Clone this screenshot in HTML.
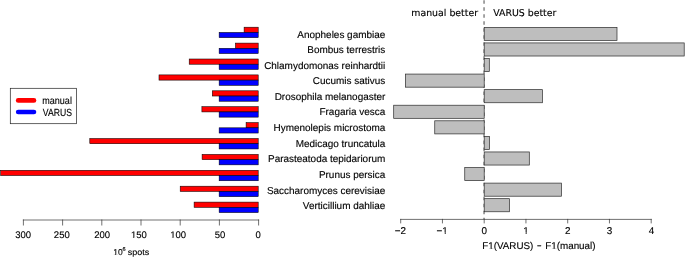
<!DOCTYPE html>
<html><head><meta charset="utf-8"><title>VARUS vs manual</title>
<style>
html,body{margin:0;padding:0;background:#fff;}
svg{display:block}
text{font-family:"Liberation Sans",sans-serif;fill:#000;text-rendering:geometricPrecision;stroke:#000;stroke-width:0.13px}
.dj{font-family:"DejaVu Sans",sans-serif}
</style></head><body>
<svg width="685" height="257" viewBox="0 0 685 257">
<rect width="685" height="257" fill="#fff"/>
<g stroke="#000" stroke-width="0.55">
<rect x="244.10" y="27.20" width="14.10" height="5.22" fill="#ff0000"/>
<rect x="219.15" y="32.42" width="39.05" height="5.22" fill="#0000ff"/>
<rect x="235.50" y="43.10" width="22.70" height="5.22" fill="#ff0000"/>
<rect x="219.15" y="48.32" width="39.05" height="5.22" fill="#0000ff"/>
<rect x="189.20" y="59.00" width="69.00" height="5.22" fill="#ff0000"/>
<rect x="219.15" y="64.22" width="39.05" height="5.22" fill="#0000ff"/>
<rect x="159.00" y="74.90" width="99.20" height="5.22" fill="#ff0000"/>
<rect x="219.15" y="80.12" width="39.05" height="5.22" fill="#0000ff"/>
<rect x="212.30" y="90.80" width="45.90" height="5.22" fill="#ff0000"/>
<rect x="219.15" y="96.02" width="39.05" height="5.22" fill="#0000ff"/>
<rect x="201.90" y="106.70" width="56.30" height="5.22" fill="#ff0000"/>
<rect x="219.15" y="111.92" width="39.05" height="5.22" fill="#0000ff"/>
<rect x="246.10" y="122.60" width="12.10" height="5.22" fill="#ff0000"/>
<rect x="219.15" y="127.82" width="39.05" height="5.22" fill="#0000ff"/>
<rect x="89.80" y="138.50" width="168.40" height="5.22" fill="#ff0000"/>
<rect x="219.15" y="143.72" width="39.05" height="5.22" fill="#0000ff"/>
<rect x="202.10" y="154.40" width="56.10" height="5.22" fill="#ff0000"/>
<rect x="219.15" y="159.62" width="39.05" height="5.22" fill="#0000ff"/>
<rect x="0.70" y="170.30" width="257.50" height="5.22" fill="#ff0000"/>
<rect x="219.15" y="175.52" width="39.05" height="5.22" fill="#0000ff"/>
<rect x="180.20" y="186.20" width="78.00" height="5.22" fill="#ff0000"/>
<rect x="219.15" y="191.42" width="39.05" height="5.22" fill="#0000ff"/>
<rect x="194.10" y="202.10" width="64.10" height="5.22" fill="#ff0000"/>
<rect x="219.15" y="207.32" width="39.05" height="5.22" fill="#0000ff"/>
</g>
<g stroke="#333" stroke-width="0.7" fill="none" stroke-linecap="square">
<path d="M23.40 220H258.60"/>
<path d="M258.60 220V225"/>
<path d="M219.40 220V225"/>
<path d="M180.20 220V225"/>
<path d="M141.00 220V225"/>
<path d="M101.80 220V225"/>
<path d="M62.60 220V225"/>
<path d="M23.40 220V225"/>
</g>
<g font-size="9.5" text-anchor="middle">
<text x="258.10" y="238.2">0</text>
<text x="220.10" y="238.2">50</text>
<text x="178.10" y="238.2">100</text>
<text x="138.90" y="238.2">150</text>
<text x="102.10" y="238.2">200</text>
<text x="61.80" y="238.2">250</text>
<text x="23.20" y="238.2">300</text>
</g>
<text x="113.2" y="255.2" font-size="8.5">10<tspan x="122.4" y="251.4" font-size="5.6">6</tspan> <tspan x="127.7" y="255.2" textLength="21.6" lengthAdjust="spacingAndGlyphs">spots</tspan></text>
<rect x="10.3" y="88.3" width="66.3" height="35.4" fill="#fff" stroke="#222" stroke-width="0.7"/>
<line x1="18.2" y1="100.4" x2="33.95" y2="100.4" stroke="#ff0000" stroke-width="4.7" stroke-linecap="round"/>
<line x1="18.2" y1="112.0" x2="33.95" y2="112.0" stroke="#0000ff" stroke-width="4.7" stroke-linecap="round"/>
<text x="42.3" y="103.8" font-size="10.2" textLength="29.6" lengthAdjust="spacingAndGlyphs">manual</text>
<text x="42.8" y="115.5" font-size="10.3" textLength="29.2" lengthAdjust="spacingAndGlyphs">VARUS</text>
<g font-size="9.96" text-anchor="end">
<text x="385.3" y="37.70">Anopheles gambiae</text>
<text x="385.3" y="53.25">Bombus terrestris</text>
<text x="385.3" y="68.80">Chlamydomonas reinhardtii</text>
<text x="385.3" y="84.35">Cucumis sativus</text>
<text x="385.3" y="99.90">Drosophila melanogaster</text>
<text x="385.3" y="115.45">Fragaria vesca</text>
<text x="385.3" y="131.00">Hymenolepis microstoma</text>
<text x="385.3" y="146.55">Medicago truncatula</text>
<text x="385.3" y="162.10">Parasteatoda tepidariorum</text>
<text x="385.3" y="177.65">Prunus persica</text>
<text x="385.3" y="193.60">Saccharomyces cerevisiae</text>
<text x="385.3" y="208.75">Verticillium dahliae</text>
</g>
<line x1="484.05" y1="0.2" x2="484.05" y2="219.3" stroke="#828282" stroke-width="1.45" stroke-dasharray="3.55 3.47"/>
<g stroke="#2a2a2a" stroke-width="0.7" fill="#bebebe">
<rect x="484.20" y="27.35" width="132.80" height="13.10"/>
<rect x="484.20" y="42.92" width="200.00" height="13.10"/>
<rect x="484.20" y="58.50" width="5.10" height="13.10"/>
<rect x="405.40" y="74.07" width="78.80" height="13.10"/>
<rect x="484.20" y="89.65" width="58.15" height="13.10"/>
<rect x="393.70" y="105.22" width="90.50" height="13.10"/>
<rect x="434.75" y="120.80" width="49.45" height="13.10"/>
<rect x="484.20" y="136.38" width="5.30" height="13.10"/>
<rect x="484.20" y="151.95" width="45.10" height="13.10"/>
<rect x="464.75" y="167.52" width="19.45" height="13.10"/>
<rect x="484.20" y="183.10" width="77.15" height="13.10"/>
<rect x="484.20" y="198.67" width="25.15" height="13.10"/>
</g>
<g stroke="#333" stroke-width="0.7" fill="none" stroke-linecap="square">
<path d="M400.70 219.4H651.20"/>
<path d="M400.70 219.4V222.9"/>
<path d="M442.45 219.4V222.9"/>
<path d="M484.20 219.4V222.9"/>
<path d="M525.95 219.4V222.9"/>
<path d="M567.70 219.4V222.9"/>
<path d="M609.45 219.4V222.9"/>
<path d="M651.20 219.4V222.9"/>
</g>
<g font-size="9.9" text-anchor="middle">
<text x="400.40" y="233.7">−2</text>
<text x="442.15" y="233.7">−1</text>
<text x="484.20" y="233.7">0</text>
<text x="525.95" y="233.7">1</text>
<text x="567.70" y="233.7">2</text>
<text x="609.45" y="233.7">3</text>
<text x="651.60" y="233.7">4</text>
</g>
<text x="482.3" y="249.4" font-size="9.8">F1(VARUS) <tspan x="536.9" textLength="4.45" lengthAdjust="spacingAndGlyphs">−</tspan> <tspan x="545.2" font-size="9.85">F1(manual)</tspan></text>
<text class="dj" x="411.3" y="15.9" font-size="9.38">manual better</text>
<text class="dj" x="493.2" y="15.9" font-size="9.38">VARUS better</text>
<g id="feet" fill="#fff">
<rect x="169.60" y="237.06" width="2.90" height="2.28"/>
<rect x="173.46" y="237.06" width="2.47" height="2.28"/>
<rect x="130.40" y="237.06" width="2.90" height="2.28"/>
<rect x="134.26" y="237.06" width="2.47" height="2.28"/>
<rect x="112.69" y="254.18" width="2.59" height="2.04"/>
<rect x="116.14" y="254.18" width="2.21" height="2.04"/>
<rect x="441.69" y="232.51" width="3.02" height="2.38"/>
<rect x="445.71" y="232.51" width="2.57" height="2.38"/>
<rect x="522.61" y="232.51" width="3.02" height="2.38"/>
<rect x="526.63" y="232.51" width="2.57" height="2.38"/>
<rect x="487.68" y="248.22" width="2.99" height="2.35"/>
<rect x="491.66" y="248.22" width="2.55" height="2.35"/>
<rect x="550.61" y="248.22" width="2.99" height="2.35"/>
<rect x="554.59" y="248.22" width="2.55" height="2.35"/>
</g>
</svg></body></html>
